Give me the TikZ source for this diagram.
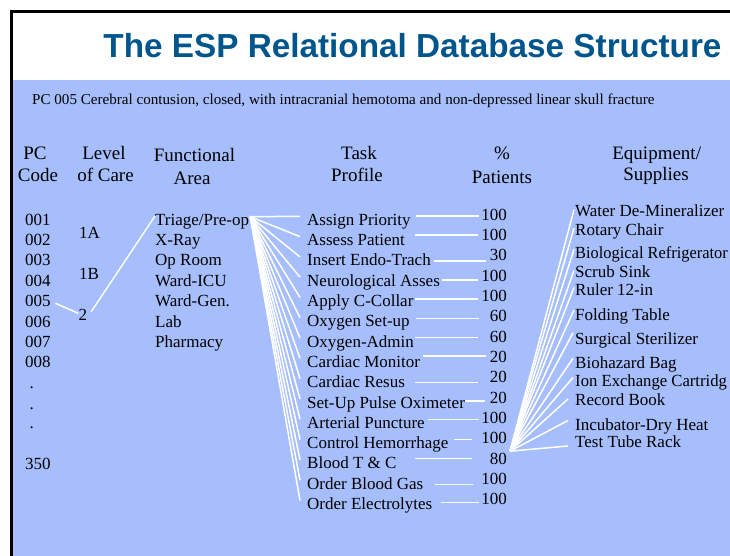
\documentclass[tikz,border=0pt]{standalone}
\usepackage{graphicx}
\usepackage{fontspec}
\setmainfont{Liberation Serif}
\newfontfamily\titlefont{Liberation Sans}
\definecolor{slideblue}{RGB}{166,190,252}
\definecolor{titleblue}{RGB}{0,86,140}
\begin{document}
\begin{tikzpicture}[x=1pt,y=-1pt,
  txt/.style={inner sep=0pt, font=\fontsize{17}{20}\selectfont, anchor=base west},
  pcttxt/.style={inner sep=0pt, font=\fontsize{17}{20}\selectfont, anchor=base east},
  hdr/.style={inner sep=0pt, font=\fontsize{19}{22}\selectfont, anchor=base},
  subtxt/.style={inner sep=0pt, font=\fontsize{15.1}{18}\selectfont, anchor=base west},
  titletxt/.style={inner sep=0pt, font=\titlefont\bfseries\fontsize{33.3}{36}\selectfont, text=titleblue, anchor=base},
  link/.style={draw=white, line width=1.5pt}]
\useasboundingbox (0,0) rectangle (730,556);
\clip (0,0) rectangle (730,556);
\fill[white] (0,0) rectangle (730,556);
\fill[slideblue] (11.3,80) rectangle (731,557);
\draw[line width=2.5pt] (11.3,557) -- (11.3,11.3) -- (731,11.3);

% title and subtitle
\node[titletxt] (title) at (412.5,57.5) {The ESP Relational Database Structure};
\node[subtxt] (sub) at (32,104.5) {PC 005 Cerebral contusion, closed, with intracranial hemotoma and non-depressed linear skull fracture};

% headers
\node[hdr] (hpc) at (35,160) {PC};
\node[hdr] (hcode) at (38,181.7) {Code};
\node[hdr] (hlevel) at (104,160) {Level};
\node[hdr] (hcare) at (105.5,181.7) {of Care};
\node[hdr] (hfunc) at (194.5,161.7) {Functional};
\node[hdr] (harea) at (192,184) {Area};
\node[hdr] (htask) at (359,160) {Task};
\node[hdr] (hprof) at (357,181.7) {Profile};
\node[hdr] (hpct) at (502,160) {\%};
\node[hdr] (hpat) at (502,183) {Patients};
\node[hdr] (hequip) at (656.7,159.3) {Equipment/};
\node[hdr] (hsupp) at (656,181) {Supplies};

% PC codes
\foreach \c [count=\k from 0] in {001,002,003,004,005,006,007,008}
  \node[txt] (c\c) at (25,{225+20.4*\k}) {\c};
\node[txt] (dot1) at (29.5,388.5) {.};
\node[txt] (dot2) at (29.5,409.5) {.};
\node[txt] (dot3) at (29.5,428.5) {.};
\node[txt] (c350) at (25,469.8) {350};

% level of care
\node[txt] (lv1a) at (79,238.3) {1A};
\node[txt] (lv1b) at (79,279) {1B};
\node[txt] (lv2) at (78.3,320.7) {2};

% functional areas
\node[txt] (f1) at (155,225) {Triage/Pre-op};
\node[txt] (f2) at (155,245.4) {X-Ray};
\node[txt] (f3) at (155,265.8) {Op Room};
\node[txt] (f4) at (155,286.2) {Ward-ICU};
\node[txt] (f5) at (155,306.6) {Ward-Gen.};
\node[txt] (f6) at (155,327) {Lab};
\node[txt] (f7) at (155,347.4) {Pharmacy};

\draw[link] ([xshift=4.5pt,yshift=3.3pt]c005.base east) -- ([yshift=7.4pt]lv2.base west);
\draw[link] ([xshift=4pt,yshift=9pt]lv2.base east) -- ([yshift=9pt]f1.base west);

\coordinate (fan) at ([xshift=1pt,yshift=8.3pt]f1.base east);

% tasks and percentages
\foreach \i/\task/\p/\gap/\len/\dy in {
  1/Assign Priority/100/5/63.3/9.3,
  2/Assess Patient/100/10/63/10.6,
  3/Insert Endo-Trach/30/3.3/52/4.9,
  4/Neurological Asses/100/1.7/36.3/6.2,
  5/Apply C-Collar/100/1.7/63/7.5,
  6/Oxygen Set-up/60/6/63/8.5,
  7/Oxygen-Admin/60/1/63/9.8,
  8/Cardiac Monitor/20/2.4/63.3/11.4,
  9/Cardiac Resus/20/10/63/5.4,
  10/Set-Up Pulse Oximeter/20/0/20/7,
  11/Arterial Puncture/100/3/51/9,
  12/Control Hemorrhage/100/5/18.4/9.3,
  13/Blood T \& C/80/18/57.7/10.6,
  14/Order Blood Gas/100/11.3/37.7/4.9,
  15/Order Electrolytes/100/8.3/38.3/6.8}
{
  \node[txt] (t\i) at (307,{225.3+20.3*(\i-1)}) {\task};
  \node[pcttxt] (p\i) at (507,{220+20.35*(\i-1)}) {\p};
  \draw[link] (t\i.base east) ++(\gap,-\dy) -- ++(\len,0);
  \draw[link] (fan) -- ([xshift=-7pt,yshift=9pt]t\i.base west);
}

% equipment / supplies
\coordinate (hub) at ([xshift=3pt,yshift=13pt]p13.base east);
\foreach \i/\eq/\b/\dx/\up in {
  1/Water De-Mineralizer/216.7/-1/7,
  2/Rotary Chair/235/-1/7,
  3/\scalebox{0.965}[1]{Biological Refrigerator}/258.3/-1/9,
  4/Scrub Sink/277.5/-1/7,
  5/Ruler 12-in/295.5/-1/8,
  6/Folding Table/320/-1/10,
  7/Surgical Sterilizer/344.3/-2/11.5,
  8/Biohazard Bag/368.3/-2/10,
  9/\scalebox{0.98}[1]{Ion Exchange Cartridg}/386.5/-2/9,
  10/Record Book/405/-7/6,
  11/Incubator-Dry Heat/430/-7/9.5,
  12/Test Tube Rack/447/-7/1}
{
  \node[txt] (e\i) at (575,\b) {\eq};
  \draw[link] (hub) -- ([xshift=\dx pt,yshift=\up pt]e\i.base west);
}
\end{tikzpicture}
\end{document}
